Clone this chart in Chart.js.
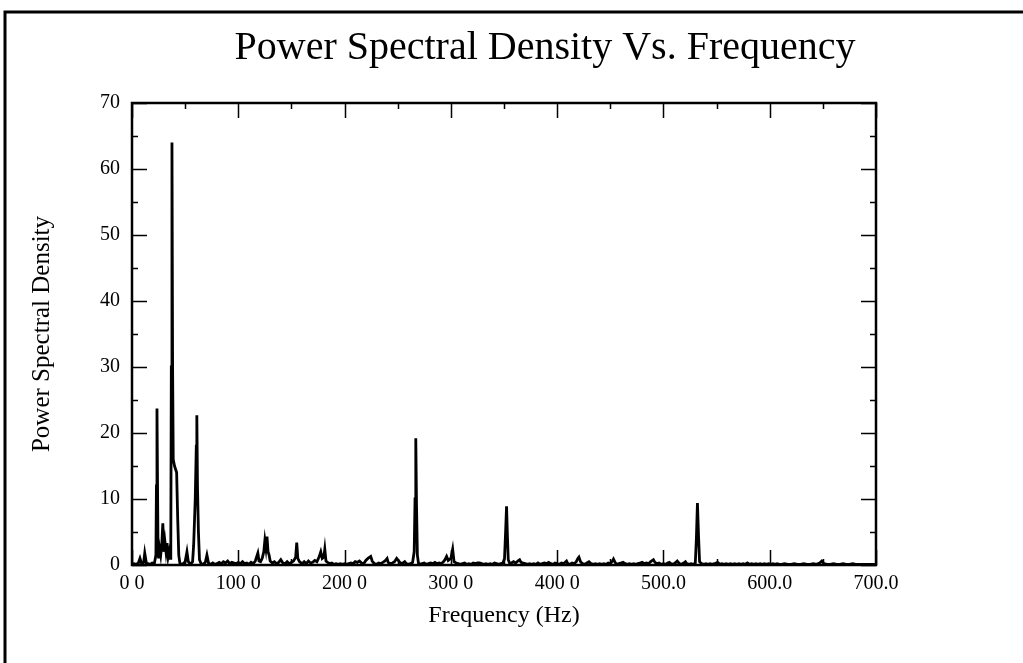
<!DOCTYPE html>
<html>
<head>
<meta charset="utf-8">
<title>Power Spectral Density Vs. Frequency</title>
<script src="https://cdn.jsdelivr.net/npm/chart.js@4.4.1/dist/chart.umd.min.js"></script>
<style>
    html, body { margin: 0; padding: 0; background: #fff; }
    #psdChart { display: block; }
</style>
</head>
<body>
<canvas id="psdChart" width="1023" height="663"></canvas>
<script>
// #### DATA ####
let freqHz = [
    0, 2, 4, 6, 7.5, 9, 11, 12, 13.5, 15, 17, 19, 21, 22.5, 23, 23.5, 24, 24.5, 25, 26,
    27, 28, 29, 30, 31, 32, 33, 34, 35, 36, 36.5, 37, 37.6, 38.2, 38.8, 40, 41, 42, 43, 44,
    45, 46, 48, 50, 51.7, 53, 55, 57, 58, 59.5, 60.5, 61, 61.6, 62.5, 63.5, 65, 67, 69, 70.5, 72,
    74, 76, 78, 80, 82, 84, 86, 88, 90, 92, 94, 96, 98, 100, 102, 104, 106, 108, 110, 112,
    114, 116, 118.4, 119.5, 121, 122.5, 124, 125, 126, 127, 128, 129, 130, 132, 134, 136, 138, 140, 142, 144,
    146, 148, 150, 152, 154, 155, 156, 157.5, 160, 162, 164, 166, 168, 170, 172, 174, 176, 177.6, 179, 180.5,
    181.4, 182.5, 184, 186, 188, 190, 192, 194, 196, 198, 200, 202, 204, 206, 208, 210, 212, 214, 216, 218,
    220, 222, 224.6, 226, 228, 230, 232, 234, 236, 238, 240, 241, 243, 245, 247, 249, 250.5, 252, 254, 256.6,
    258, 260, 262, 264, 265.5, 266.3, 267, 267.7, 268.5, 269.5, 271, 273, 275, 277, 279, 281, 283, 285, 287, 289,
    291, 293, 294.5, 296, 297.5, 299, 300, 301.7, 303, 305, 307, 309, 311, 313, 315, 317, 319, 321, 323, 325,
    327, 329, 331, 333, 335, 337, 339, 341, 343, 345, 347, 349, 350.5, 351.5, 352.4, 353.2, 354, 355.5, 357, 359,
    361, 363, 364.7, 366, 368, 370, 372, 374, 376, 378, 380, 382, 384, 386, 388, 390, 392, 394, 396, 398,
    400, 402, 404, 406, 408.8, 410, 412, 414, 416, 418, 419.5, 420.5, 422, 424, 426, 428, 430, 432, 434, 436,
    438, 440, 442, 444, 446, 448, 450, 452, 453, 454.5, 456, 458, 460, 462, 464, 466, 468, 470, 472, 474,
    476, 478, 480, 482, 484, 486, 488, 490.6, 492, 494, 496, 498, 500, 502, 504, 505.6, 507, 509, 511, 513,
    515, 517, 519, 520.7, 522, 524, 526, 528, 530, 531, 532, 533, 534, 536, 538, 540, 542, 544, 546, 548,
    551, 553, 555, 557, 559, 561, 563, 565, 567, 569, 571, 573, 575, 577, 579, 581, 583, 585, 587, 589,
    591, 593, 595, 597, 599, 601, 603, 605, 607, 609, 611, 614, 617, 620, 623, 626, 629, 632, 635, 638,
    641, 644, 647, 649, 651, 654, 657, 660, 663, 666, 669, 672, 675, 678, 681, 684, 687, 690, 693, 696,
    699
];
let psd = [
    0.1, 0.2, 0.1, 0.3, 1.0, 0.2, 0.4, 1.8, 0.3, 0.2, 0.1, 0.3, 0.2, 1.5, 12.0, 23.7, 12.5, 2.0, 1.0, 2.5,
    1.5, 3.0, 6.3, 2.0, 3.5, 2.0, 3.3, 1.2, 2.0, 1.0, 2.5, 30, 64, 30, 16, 15, 14.5, 14, 7, 1.5,
    0.3, 0.1, 0.2, 0.5, 2.0, 0.5, 0.1, 0.5, 3, 10, 18, 22.7, 12, 5, 0.8, 0.2, 0.1, 0.4, 1.5, 0.3,
    0.1, 0.3, 0.1, 0.2, 0.4, 0.2, 0.5, 0.3, 0.6, 0.2, 0.4, 0.3, 0.2, 0.4, 0.2, 0.5, 0.2, 0.3, 0.1, 0.4,
    0.2, 0.6, 1.8, 0.6, 0.5, 1.0, 2.0, 3.7, 2.5, 4.3, 2.0, 1.5, 0.6, 0.3, 0.5, 0.2, 0.4, 0.8, 0.3, 0.2,
    0.5, 0.2, 0.4, 0.6, 1.2, 3.4, 1.0, 0.5, 0.2, 0.5, 0.2, 0.6, 0.3, 0.4, 0.7, 0.5, 1.2, 2.0, 1.0, 1.2,
    2.4, 0.6, 0.4, 0.2, 0.3, 0.1, 0.2, 0.1, 0.2, 0.1, 0.2, 0.1, 0.2, 0.3, 0.2, 0.5, 0.4, 0.6, 0.3, 0.2,
    0.7, 1.0, 1.3, 0.6, 0.2, 0.1, 0.3, 0.2, 0.4, 0.6, 1.0, 0.4, 0.2, 0.3, 0.5, 1.0, 0.7, 0.4, 0.2, 0.5,
    0.2, 0.1, 0.2, 0.4, 2, 10, 19.2, 9, 1.5, 0.3, 0.1, 0.2, 0.3, 0.1, 0.2, 0.3, 0.2, 0.4, 0.2, 0.3,
    0.2, 0.5, 0.8, 1.3, 0.7, 0.9, 1.0, 2.4, 0.5, 0.3, 0.2, 0.1, 0.2, 0.3, 0.1, 0.2, 0.1, 0.3, 0.2, 0.3,
    0.3, 0.2, 0.1, 0.2, 0.1, 0.2, 0.1, 0.3, 0.2, 0.1, 0.2, 0.3, 1.0, 5, 8.9, 4.5, 0.8, 0.2, 0.3, 0.5,
    0.3, 0.6, 0.8, 0.4, 0.3, 0.2, 0.1, 0.2, 0.1, 0.2, 0.1, 0.3, 0.1, 0.2, 0.3, 0.2, 0.4, 0.2, 0.1, 0.3,
    0.2, 0.1, 0.3, 0.2, 0.6, 0.2, 0.1, 0.3, 0.2, 0.5, 1.0, 1.2, 0.5, 0.2, 0.1, 0.3, 0.5, 0.2, 0.1, 0.2,
    0.1, 0.2, 0.1, 0.2, 0.1, 0.3, 0.2, 0.6, 0.9, 0.4, 0.1, 0.2, 0.3, 0.4, 0.2, 0.1, 0.2, 0.1, 0.2, 0.1,
    0.2, 0.3, 0.4, 0.2, 0.3, 0.2, 0.5, 0.8, 0.4, 0.2, 0.3, 0.1, 0.2, 0.1, 0.3, 0.4, 0.2, 0.1, 0.3, 0.6,
    0.2, 0.1, 0.3, 0.5, 0.2, 0.1, 0.2, 0.1, 0.3, 4, 9.4, 4.5, 0.5, 0.2, 0.1, 0.2, 0.1, 0.2, 0.1, 0.2,
    0.4, 0.1, 0.2, 0.1, 0.2, 0.1, 0.2, 0.1, 0.2, 0.1, 0.2, 0.1, 0.2, 0.1, 0.3, 0.1, 0.2, 0.1, 0.2, 0.1,
    0.2, 0.1, 0.2, 0.1, 0.2, 0.1, 0.2, 0.1, 0.2, 0.1, 0.1, 0.2, 0.1, 0.1, 0.2, 0.1, 0.1, 0.2, 0.1, 0.1,
    0.2, 0.1, 0.3, 0.6, 0.2, 0.1, 0.1, 0.2, 0.1, 0.1, 0.2, 0.1, 0.1, 0.2, 0.1, 0.1, 0.1, 0.1, 0.1, 0.1,
    0.1
];

let xTickLabels = ["0 0", "100 0", "200 0", "300 0", "400 0", "500.0", "600.0", "700.0"];
let yTickLabels = ["0", "10", "20", "30", "40", "50", "60", "70"];

let chartTitle = "Power Spectral Density Vs. Frequency";
let xTitle = "Frequency (Hz)";
let yTitle = "Power Spectral Density";

let serif = "'Liberation Serif', 'Times New Roman', serif";

// #### FRAME, INWARD TICKS & TITLE ####
let framePlugin = {
    id: 'frame',
    afterDraw(chart) {
        let ctx = chart.ctx;
        let {left, right, top, bottom} = chart.chartArea;
        let xs = chart.scales.x;
        let ys = chart.scales.y;
        ctx.save();
        ctx.strokeStyle = '#000';
        ctx.fillStyle = '#000';

        // page border (scan edge)
        ctx.lineWidth = 3;
        ctx.beginPath();
        ctx.moveTo(5, chart.height);
        ctx.lineTo(5, 12);
        ctx.lineTo(chart.width, 12);
        ctx.stroke();

        // ticks pointing into the plot
        ctx.lineWidth = 1.5;
        ctx.beginPath();
        for (let v = xs.min; v <= xs.max; v += 50) {
            let len = v % 100 === 0 ? 15 : 6;
            let px = Math.round(xs.getPixelForValue(v)) + 0.5;
            ctx.moveTo(px, bottom); ctx.lineTo(px, bottom - len);
            ctx.moveTo(px, top); ctx.lineTo(px, top + len);
        }
        for (let v = ys.min; v <= ys.max; v += 5) {
            let len = v % 10 === 0 ? 15 : 6;
            let py = Math.round(ys.getPixelForValue(v)) + 0.5;
            ctx.moveTo(left, py); ctx.lineTo(left + len, py);
            ctx.moveTo(right, py); ctx.lineTo(right - len, py);
        }
        ctx.stroke();

        // plot box
        ctx.lineWidth = 2.5;
        ctx.strokeRect(left, top, right - left, bottom - top);

        // title
        ctx.font = "40px " + serif;
        ctx.textAlign = 'center';
        ctx.textBaseline = 'alphabetic';
        ctx.fillText(chartTitle, 545, 59);
        ctx.restore();
    }
};

let psdChart = new Chart(document.getElementById("psdChart").getContext("2d"), {
    type: 'line',
    data: {
        datasets: [{
            data: freqHz.map((f, i) => ({x: f, y: psd[i]})),
            borderColor: '#000',
            borderWidth: 2.8,
            pointRadius: 0,
            tension: 0,
            fill: false
        }]
    },
    options: {
        responsive: false,
        animation: false,
        layout: {padding: {top: 103, right: 147, left: 0, bottom: 0}},
        plugins: {
            legend: {display: false},
            tooltip: {enabled: false},
            title: {display: false}
        },
        scales: {
            x: {
                type: 'linear',
                min: 0,
                max: 700,
                grid: {display: false, drawTicks: false},
                border: {display: false},
                ticks: {
                    stepSize: 100,
                    autoSkip: false,
                    maxRotation: 0,
                    padding: 7,
                    color: '#000',
                    font: {family: serif, size: 20},
                    callback: (v, i) => xTickLabels[i]
                },
                title: {
                    display: true,
                    text: xTitle,
                    color: '#000',
                    font: {family: serif, size: 24},
                    padding: {top: 4, bottom: 33}
                },
                afterFit: (scale) => { scale.height = 98; }
            },
            y: {
                min: 0,
                max: 70,
                grid: {display: false, drawTicks: false},
                border: {display: false},
                ticks: {
                    stepSize: 10,
                    padding: 12,
                    color: '#000',
                    font: {family: serif, size: 20},
                    callback: (v, i) => yTickLabels[i]
                },
                title: {
                    display: true,
                    text: yTitle,
                    color: '#000',
                    font: {family: serif, size: 25},
                    padding: {top: 27, bottom: 4}
                },
                afterFit: (scale) => { scale.width = 132; }
            }
        }
    },
    plugins: [framePlugin]
});
</script>
</body>
</html>
